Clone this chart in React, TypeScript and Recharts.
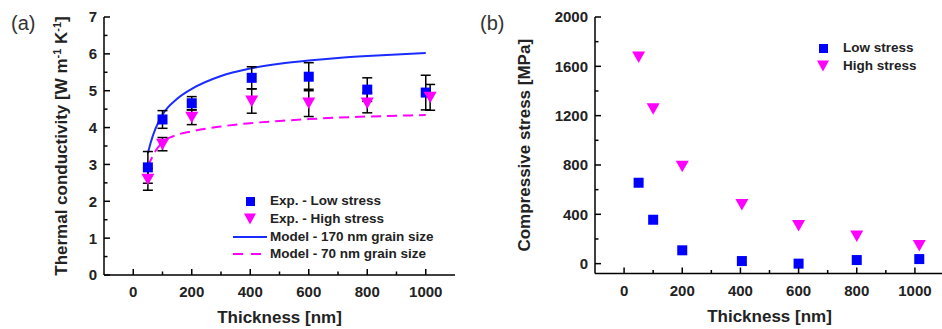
import React from 'react';
import { ComposedChart, Scatter, Line, XAxis, YAxis, ErrorBar } from 'recharts';

// panel (a): thermal conductivity
const thicknessLow = [50, 100, 200, 405, 600, 800, 1000];
const kLow = [2.92, 4.22, 4.66, 5.35, 5.38, 5.03, 4.95];
const kLowErr = [0.43, 0.24, 0.18, 0.3, 0.38, 0.32, 0.47];
const thicknessHigh = [50, 100, 200, 405, 600, 800, 1015];
const kHigh = [2.6, 3.55, 4.28, 4.72, 4.67, 4.67, 4.82];
const kHighErr = [0.3, 0.18, 0.2, 0.33, 0.37, 0.27, 0.35];

const modelThickness = [50, 60, 75, 100, 150, 200, 300, 400, 500, 600, 700, 800, 900, 1000];
const model170 = [3.3, 3.6, 3.95, 4.35, 4.78, 5.05, 5.4, 5.6, 5.73, 5.82, 5.89, 5.94, 5.98, 6.02];
const model70 = [2.95, 3.12, 3.35, 3.6, 3.8, 3.9, 4.03, 4.12, 4.18, 4.23, 4.27, 4.3, 4.32, 4.34];

// panel (b): compressive stress
const stressThickness = [50, 100, 200, 405, 600, 800, 1015];
const stressLow = [656, 356, 108, 21, 0, 29, 37];
const stressHigh = [1676, 1255, 790, 480, 310, 224, 148];

const xTicks = [0, 100, 200, 300, 400, 500, 600, 700, 800, 900, 1000];
const kTicks = [0, 0.5, 1, 1.5, 2, 2.5, 3, 3.5, 4, 4.5, 5, 5.5, 6, 6.5, 7];
const stressTicks = [0, 200, 400, 600, 800, 1000, 1200, 1400, 1600, 1800, 2000];

const lowData = thicknessLow.map((t, i) => ({ t, k: kLow[i], err: kLowErr[i] }));
const highData = thicknessHigh.map((t, i) => ({ t, k: kHigh[i], err: kHighErr[i] }));
const m170Data = modelThickness.map((t, i) => ({ t, k: model170[i] }));
const m70Data = modelThickness.map((t, i) => ({ t, k: model70[i] }));
const stressLowData = stressThickness.map((t, i) => ({ t, s: stressLow[i] }));
const stressHighData = stressThickness.map((t, i) => ({ t, s: stressHigh[i] }));

const FONT = 'Arial, "Liberation Sans", sans-serif';
const BLUE = '#0000ff';
const MAGENTA = '#ff00ff';

const Square = (p: any) => <rect x={p.cx - 5} y={p.cy - 5} width={10} height={10} fill={BLUE} />;
const TriDown = (p: any) => (
  <polygon points={`${p.cx - 6.5},${p.cy - 5.5} ${p.cx + 6.5},${p.cy - 5.5} ${p.cx},${p.cy + 6}`} fill={MAGENTA} />
);

const makeBottomTick = (majorEvery: number) => (p: any) => {
  const v = p.payload.value;
  const major = v % majorEvery === 0;
  return (
    <g>
      <line x1={p.x} x2={p.x} y1={p.y} y2={p.y - (major ? 6 : 3.5)} stroke="#000" strokeWidth={1.5} />
      {major && (
        <text x={p.x} y={p.y + 22} textAnchor="middle" fontFamily={FONT} fontWeight="bold" fontSize={15} fill="#222">
          {v}
        </text>
      )}
    </g>
  );
};

const makeLeftTick = (majorEvery: number) => (p: any) => {
  const v = p.payload.value;
  const major = Math.abs(v / majorEvery - Math.round(v / majorEvery)) < 1e-6;
  return (
    <g>
      <line x1={p.x} x2={p.x + (major ? 6 : 3.5)} y1={p.y} y2={p.y} stroke="#000" strokeWidth={1.5} />
      {major && (
        <text x={p.x - 7} y={p.y} dy="0.36em" textAnchor="end" fontFamily={FONT} fontWeight="bold" fontSize={15} fill="#222">
          {v}
        </text>
      )}
    </g>
  );
};

const makeRightTick = (majorEvery: number) => (p: any) => {
  const v = p.payload.value;
  const major = Math.abs(v / majorEvery - Math.round(v / majorEvery)) < 1e-6;
  return <line x1={p.x} x2={p.x - (major ? 6 : 3.5)} y1={p.y} y2={p.y} stroke="#000" strokeWidth={1.5} />;
};

const xTitle = (props: any) => {
  const vb = props.viewBox;
  return (
    <text x={vb.x + vb.width / 2} y={vb.y + 48} textAnchor="middle" fontFamily={FONT} fontWeight="bold" fontSize={17} fill="#222">
      Thickness [nm]
    </text>
  );
};

const yTitleA = (props: any) => {
  const vb = props.viewBox;
  const cx = vb.x + 3;
  const cy = vb.y + vb.height / 2;
  return (
    <text transform={`rotate(-90 ${cx} ${cy})`} x={cx} y={cy} textAnchor="middle" fontFamily={FONT} fontWeight="bold" fontSize={17} fill="#222">
      Thermal conductivity [W m<tspan dy={-6} fontSize={11}>-1</tspan>
      <tspan dy={6}> K</tspan>
      <tspan dy={-6} fontSize={11}>-1</tspan>
      <tspan dy={6}>]</tspan>
    </text>
  );
};

const yTitleB = (props: any) => {
  const vb = props.viewBox;
  const cx = vb.x - 25;
  const cy = vb.y + vb.height / 2;
  return (
    <text transform={`rotate(-90 ${cx} ${cy})`} x={cx} y={cy} textAnchor="middle" fontFamily={FONT} fontWeight="bold" fontSize={17} fill="#222">
      Compressive stress [MPa]
    </text>
  );
};

const legendText: React.CSSProperties = {
  position: 'absolute',
  fontFamily: FONT,
  fontWeight: 'bold',
  fontSize: 13.5,
  color: '#222',
  whiteSpace: 'nowrap',
  lineHeight: '16px',
};

const LegendSquare = ({ left, top }: { left: number; top: number }) => (
  <div style={{ position: 'absolute', left: left - 4.5, top: top - 4.5, width: 9, height: 9, background: BLUE }} />
);
const LegendTri = ({ left, top }: { left: number; top: number }) => (
  <svg style={{ position: 'absolute', left: left - 7, top: top - 6 }} width={14} height={12}>
    <polygon points="1,0.5 13,0.5 7,11.5" fill={MAGENTA} />
  </svg>
);

export default function App() {
  return (
    <div style={{ position: 'absolute', left: 0, top: 0, width: 942, height: 329, overflow: 'hidden', background: '#fff' }}>
      <div style={{ position: 'absolute', left: 11, top: 12, fontFamily: FONT, fontSize: 20, color: '#333' }}>(a)</div>
      <div style={{ position: 'absolute', left: 480, top: 12, fontFamily: FONT, fontSize: 20, color: '#333' }}>(b)</div>

      <div style={{ position: 'absolute', left: 0, top: 0 }}>
        <ComposedChart width={470} height={329} margin={{ top: 17, right: 15, bottom: 24, left: 64 }}>
          <XAxis
            dataKey="t"
            type="number"
            domain={[-100, 1100]}
            ticks={xTicks}
            interval={0}
            tick={makeBottomTick(200)}
            tickLine={false}
            tickSize={0}
            tickMargin={0}
            height={30}
            axisLine={{ stroke: '#000', strokeWidth: 1.5 }}
            label={{ content: xTitle }}
          />
          <XAxis xAxisId="top" orientation="top" type="number" domain={[-100, 1100]} height={0} tick={false} tickLine={false} axisLine={{ stroke: '#000', strokeWidth: 1.5 }} />
          <YAxis
            type="number"
            domain={[0, 7]}
            ticks={kTicks}
            interval={0}
            tick={makeLeftTick(1)}
            tickLine={false}
            tickSize={0}
            tickMargin={0}
            width={40}
            axisLine={{ stroke: '#000', strokeWidth: 1.5 }}
            label={{ content: yTitleA }}
          />
          <YAxis
            yAxisId="r"
            orientation="right"
            type="number"
            domain={[0, 7]}
            ticks={kTicks}
            interval={0}
            tick={makeRightTick(1)}
            tickLine={false}
            tickSize={0}
            tickMargin={0}
            width={0}
            axisLine={{ stroke: '#000', strokeWidth: 1.5 }}
          />
          <Line data={m170Data} dataKey="k" type="monotone" stroke="#1a2cff" strokeWidth={2} dot={false} isAnimationActive={false} />
          <Line data={m70Data} dataKey="k" type="monotone" stroke={MAGENTA} strokeWidth={2} strokeDasharray="10 6" dot={false} isAnimationActive={false} />
          <Scatter data={lowData} dataKey="k" shape={Square} isAnimationActive={false}>
            <ErrorBar dataKey="err" direction="y" width={5} stroke="#000" strokeWidth={1.5} />
          </Scatter>
          <Scatter data={highData} dataKey="k" shape={TriDown} isAnimationActive={false}>
            <ErrorBar dataKey="err" direction="y" width={5} stroke="#000" strokeWidth={1.5} />
          </Scatter>
        </ComposedChart>
      </div>

      <LegendSquare left={250} top={201} />
      <div style={{ ...legendText, left: 270, top: 193 }}>Exp. - Low stress</div>
      <LegendTri left={250} top={219} />
      <div style={{ ...legendText, left: 270, top: 211 }}>Exp. - High stress</div>
      <div style={{ position: 'absolute', left: 233, top: 235.5, width: 34, height: 2, background: '#1a2cff' }} />
      <div style={{ ...legendText, left: 270, top: 228.5 }}>Model - 170 nm grain size</div>
      <div style={{ position: 'absolute', left: 233, top: 253, width: 10, height: 2, background: MAGENTA }} />
      <div style={{ position: 'absolute', left: 251, top: 253, width: 10, height: 2, background: MAGENTA }} />
      <div style={{ ...legendText, left: 270, top: 246 }}>Model - 70 nm grain size</div>

      <div style={{ position: 'absolute', left: 480, top: 0 }}>
        <ComposedChart width={470} height={329} margin={{ top: 17, right: 6, bottom: 25.5, left: 75 }}>
          <XAxis
            dataKey="t"
            type="number"
            domain={[-100, 1100]}
            ticks={xTicks}
            interval={0}
            tick={makeBottomTick(200)}
            tickLine={false}
            tickSize={0}
            tickMargin={0}
            height={30}
            axisLine={{ stroke: '#000', strokeWidth: 1.5 }}
            label={{ content: xTitle }}
          />
          <XAxis xAxisId="top" orientation="top" type="number" domain={[-100, 1100]} height={0} tick={false} tickLine={false} axisLine={{ stroke: '#000', strokeWidth: 1.5 }} />
          <YAxis
            type="number"
            domain={[-80, 2000]}
            ticks={stressTicks}
            interval={0}
            tick={makeLeftTick(400)}
            tickLine={false}
            tickSize={0}
            tickMargin={0}
            width={40}
            axisLine={{ stroke: '#000', strokeWidth: 1.5 }}
            label={{ content: yTitleB }}
          />
          <YAxis
            yAxisId="r"
            orientation="right"
            type="number"
            domain={[-80, 2000]}
            ticks={stressTicks}
            interval={0}
            tick={makeRightTick(400)}
            tickLine={false}
            tickSize={0}
            tickMargin={0}
            width={0}
            axisLine={{ stroke: '#000', strokeWidth: 1.5 }}
          />
          <Scatter data={stressLowData} dataKey="s" shape={Square} isAnimationActive={false} />
          <Scatter data={stressHighData} dataKey="s" shape={TriDown} isAnimationActive={false} />
        </ComposedChart>
      </div>

      <LegendSquare left={823} top={48} />
      <div style={{ ...legendText, left: 843, top: 40 }}>Low stress</div>
      <LegendTri left={823} top={66} />
      <div style={{ ...legendText, left: 843, top: 58 }}>High stress</div>
    </div>
  );
}
